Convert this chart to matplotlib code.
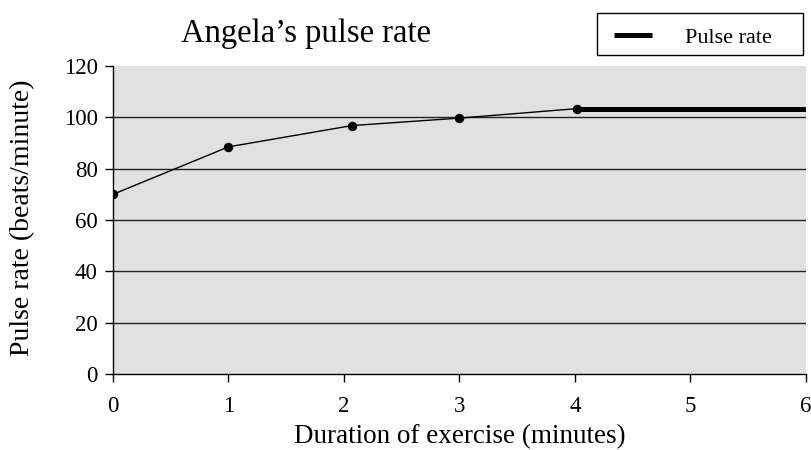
import matplotlib
matplotlib.use("Agg")
import matplotlib.pyplot as plt
from matplotlib.lines import Line2D
from matplotlib.patches import Rectangle

minutes = [0, 1, 2.07, 3, 4.02]
pulse = [70, 88.5, 96.8, 99.7, 103.4]
legend_x = [4.02, 6]
legend_y = [103.4, 103.4]
x_ticks = [0, 1, 2, 3, 4, 5, 6]
y_ticks = [0, 20, 40, 60, 80, 100, 120]
legend_label = 'Pulse rate'

plt.rcParams['font.family'] = ['Liberation Serif', 'DejaVu Serif']

W, H = 812, 450
fig = plt.figure(figsize=(W/100, H/100), dpi=100)
ax = fig.add_axes([113/W, 1-374/H, (806-113)/W, (374-66)/H])
ax.set_facecolor('#e1e1e1')

for yv in y_ticks[1:-1]:
    ax.axhline(yv, color='#222222', lw=1.0, zorder=1)

ax.plot(minutes, pulse, color='black', lw=1.0, marker='o', ms=5.8, zorder=3)
ax.plot(legend_x, legend_y, color='black', lw=3.6, solid_capstyle='butt', zorder=3)

ax.set_xlim(0, 6)
ax.set_ylim(0, 120)
ax.set_xticks(x_ticks)
ax.set_yticks(y_ticks)
ax.tick_params(axis='both', labelsize=16.5, direction='out', length=6, width=1, colors='black')
ax.tick_params(axis='x', pad=10)
ax.tick_params(axis='y', pad=5)
for s in ['top', 'right']:
    ax.spines[s].set_visible(False)
for s in ['left', 'bottom']:
    ax.spines[s].set_linewidth(1.0)

ax.set_xlabel('Duration of exercise (minutes)', fontsize=19.5)
ax.xaxis.set_label_coords(460/W, 1-443/H, transform=fig.transFigure)
ax.xaxis.label.set_va('baseline')
ax.set_ylabel('Pulse rate (beats/minute)', fontsize=20)
ax.yaxis.set_label_coords(23/W, 1-218/H, transform=fig.transFigure)
ax.yaxis.label.set_va('center')

fig.text(306.5/W, 1-42/H, 'Angela\u2019s pulse rate', fontsize=23.5, ha='center', va='baseline')

# legend box
fig.patches.append(Rectangle((597/W, 1-55/H), (803-597)/W, (55-13)/H,
                             transform=fig.transFigure, fill=False,
                             edgecolor='black', lw=1.0))
fig.lines.append(Line2D([614/W, 652/W], [1-35/H, 1-35/H], transform=fig.transFigure,
                        color='black', lw=3.6, solid_capstyle='butt'))
fig.text(685/W, 1-43/H, legend_label, fontsize=16, ha='left', va='baseline')

fig.savefig('out.png', dpi=100)
